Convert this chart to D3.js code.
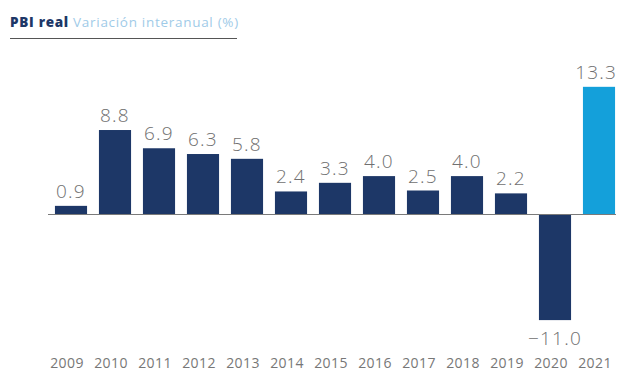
<!DOCTYPE html>
<html>
<head>
<meta charset="utf-8">
<script src="https://cdn.jsdelivr.net/npm/d3@7"></script>
<style>
  body { margin: 0; background: #fff; }
  svg { display: block; }
  .val { font-family: "Open Sans", sans-serif; font-weight: 300; font-size: 19px; fill: #707070; letter-spacing: 1.2px; }
  .yr text { font-family: "Open Sans", sans-serif; font-size: 14px; fill: #777; letter-spacing: 0.4px; }
</style>
</head>
<body>
<svg id="vis" width="618" height="378"></svg>
<script>
// PBI real, variación interanual (%)
const years = ["2009", "2010", "2011", "2012", "2013", "2014", "2015", "2016", "2017", "2018", "2019", "2020", "2021"];
const growth = [0.9, 8.8, 6.9, 6.3, 5.8, 2.4, 3.3, 4.0, 2.5, 4.0, 2.2, -11.0, 13.3];
const projected = ["2021"];

const svg = d3.select('#vis');
const WIDTH = 618;
const navy = "#1d3767";
const sky = "#14a0da";

const x = d3.scaleBand()
    .domain(years)
    .range([49, 621])
    .paddingInner(0.27)
    .paddingOuter(0.135);

const y = d3.scaleLinear()
    .domain([-15, 15])
    .range([358.5, 70.5]);

// title
const title = svg.append("text")
    .attr("x", 10)
    .attr("y", 27)
    .style("font-family", "'Open Sans', sans-serif")
    .style("font-size", "13.5px")
    .style("letter-spacing", "0.7px");
title.append("tspan")
    .attr("font-weight", 800)
    .attr("fill", "#1d3767")
    .text("PBI real ");
title.append("tspan")
    .attr("fill", "#9fcbe8")
    .text("Variación interanual (%)");

svg.append("line")
    .attr("x1", 10).attr("x2", 237)
    .attr("y1", 38.5).attr("y2", 38.5)
    .attr("stroke", "#555")
    .attr("stroke-width", 1.2);

// bars
svg.selectAll(".bar")
    .data(growth)
    .enter().append("rect")
    .attr("class", "bar")
    .attr("x", function (d, i) { return x(years[i]); })
    .attr("width", x.bandwidth())
    .attr("y", function (d) { return y(Math.max(0, d)); })
    .attr("height", function (d) { return Math.abs(y(d) - y(0)); })
    .attr("fill", function (d, i) {
        return projected.indexOf(years[i]) >= 0 ? sky : navy;
    });

// zero line
svg.append("line")
    .attr("x1", 48).attr("x2", 616)
    .attr("y1", y(0)).attr("y2", y(0))
    .attr("stroke", "#7a7a7a")
    .attr("stroke-width", 1);

// value labels
var vals = svg.selectAll(".val")
    .data(growth)
    .enter().append("text")
    .attr("class", "val")
    .attr("text-anchor", "middle")
    .attr("x", function (d, i) { return x(years[i]) + x.bandwidth() / 2; })
    .attr("y", function (d) { return d >= 0 ? y(d) - 8 : y(d) + 25; })
    .text(function (d) {
        return d < 0 ? "\u2212" + Math.abs(d).toFixed(1) : d.toFixed(1);
    });

// keep the last label inside the frame
vals.each(function () {
    var b = this.getBBox();
    if (b.x + b.width > WIDTH - 1) {
        d3.select(this).attr("x", +d3.select(this).attr("x") - (b.x + b.width - WIDTH + 1));
    }
});

// year axis
const axis = svg.append("g")
    .attr("class", "yr")
    .attr("transform", "translate(-4,358)")
    .call(d3.axisBottom(x).tickSize(0).tickPadding(0));
axis.select(".domain").remove();
</script>
</body>
</html>
